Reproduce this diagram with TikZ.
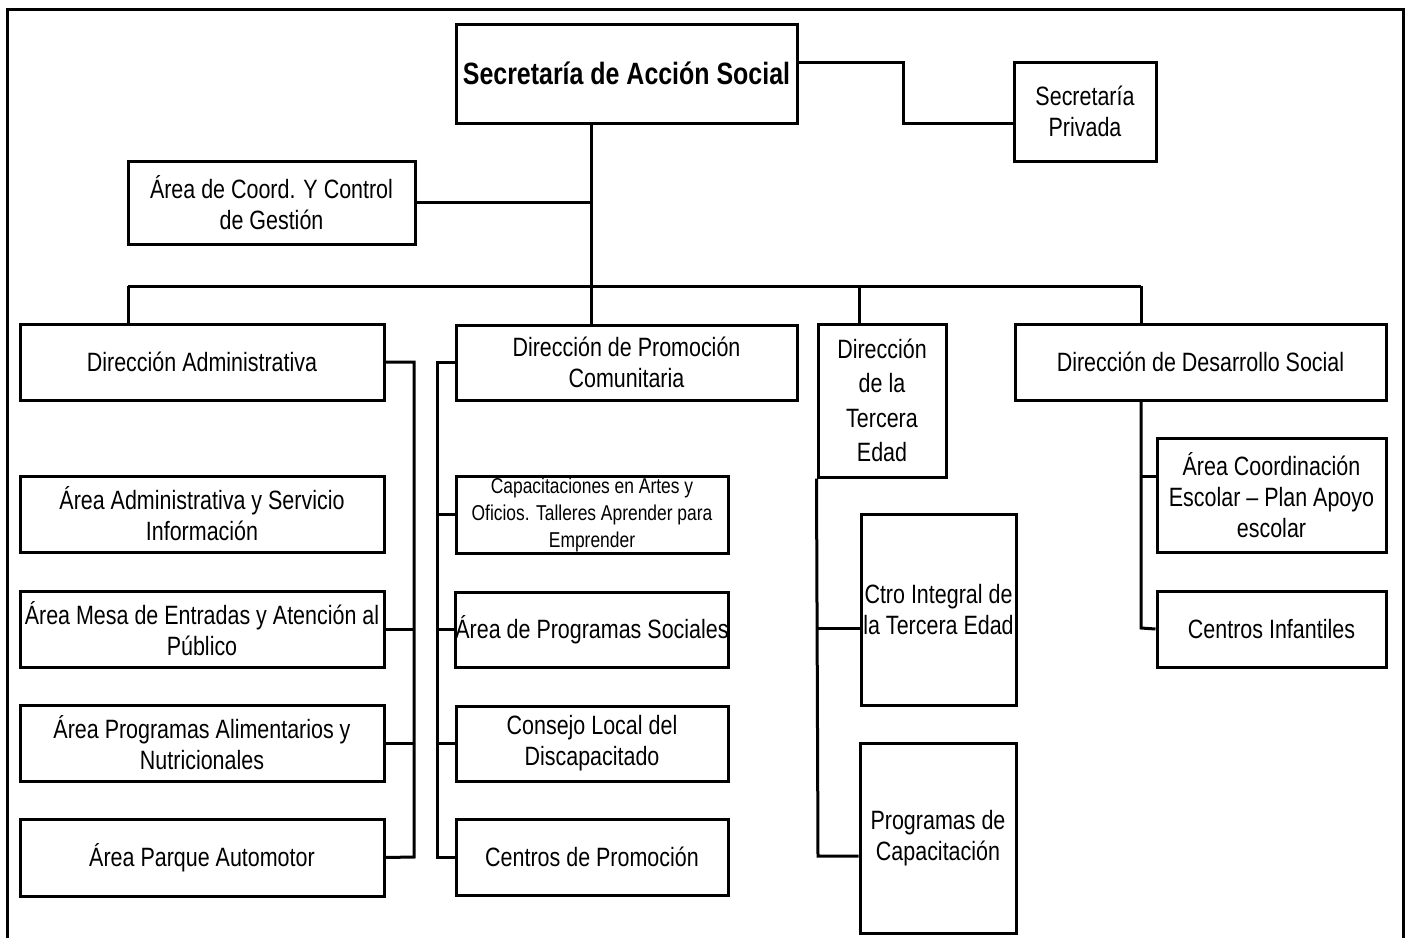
\documentclass[tikz,border=0pt]{standalone}
\usepackage{fontspec}
\setmainfont{Liberation Sans}[FakeStretch=0.81]
\begin{document}
\begin{tikzpicture}[x=1pt,y=-1pt,line width=3pt,
  box/.style={draw,line width=3pt,inner sep=0pt,align=center,font=\fontsize{26.5}{31}\selectfont},
  small/.style={font=\fontsize{21.5}{27}\selectfont},
  link/.style={line width=3pt}]
\useasboundingbox (0,0) rectangle (1409,938);
\draw (7,938) -- (7,9) -- (1403,9) -- (1403,938);

% top level
\node[box,minimum width=341pt,minimum height=99pt,font=\bfseries\fontsize{30.8}{34}\selectfont] (sec) at (626.5,73.5) {Secretaría de Acción Social};
\node[box,minimum width=142pt,minimum height=99pt] (priv) at (1085,111.5) {Secretaría\\Privada};
\node[box,minimum width=287pt,minimum height=83pt] (coord) at (271.5,202.5) {Área de Coord. Y Control\\de Gestión};

% directions
\node[box,minimum width=364pt,minimum height=76pt] (dadm) at (202,362) {Dirección Administrativa};
\node[box,minimum width=341pt,minimum height=75pt] (dprom) at (626.5,362.5) {Dirección de Promoción\\Comunitaria};
\node[box,minimum width=128pt,minimum height=153pt,font=\fontsize{26.5}{34.5}\selectfont] (dter) at (882,400.5) {Dirección\\de la\\Tercera\\Edad};
\node[box,minimum width=371pt,minimum height=76pt] (ddes) at (1200.5,362) {Dirección de Desarrollo Social};

% administrative areas
\node[box,minimum width=364pt,minimum height=76pt] (a1) at (202,514) {Área Administrativa y Servicio\\Información};
\node[box,minimum width=364pt,minimum height=76pt] (a2) at (202,629) {Área Mesa de Entradas y Atención al\\Público};
\node[box,minimum width=364pt,minimum height=76pt] (a3) at (202,743) {Área Programas Alimentarios y\\Nutricionales};
\node[box,minimum width=364pt,minimum height=77pt] (a4) at (202,857.5) {Área Parque Automotor};

% promotion areas
\node[box,small,minimum width=272pt,minimum height=77pt] (p1) at (592,514.5) {Capacitaciones en Artes y\\Oficios. Talleres Aprender para\\Emprender};
\node[box,minimum width=272pt,minimum height=75pt] (p2) at (592,629.5) {Área de Programas Sociales};
\node[box,minimum width=272pt,minimum height=75pt] (p3) at (592,743.5) {Consejo Local del\\Discapacitado};
\node[box,minimum width=272pt,minimum height=76pt] (p4) at (592,857) {Centros de Promoción};

% third age
\node[box,minimum width=155pt,minimum height=191pt] (t1) at (938.5,609.5) {Ctro Integral de\\la Tercera Edad};
\node[box,minimum width=156pt,minimum height=190pt] (t2) at (938,838) {Programas de\\Capacitación};

% social development
\node[box,minimum width=229pt,minimum height=114pt] (d1) at (1271.5,495) {Área Coordinación\\Escolar – Plan Apoyo\\escolar};
\node[box,minimum width=229pt,minimum height=76pt] (d2) at (1271.5,629) {Centros Infantiles};

% junction coordinates
\coordinate (tt) at (591,123);
\coordinate (bl) at (128,286);
\coordinate (br) at (1141,286);
\coordinate (bm) at (591,286);
\coordinate (bt) at (859,286);
\coordinate (sj) at (903,62);
\coordinate (va) at (414,857);
\coordinate (vp) at (437,857);
\coordinate (vt) at (818,856);
\coordinate (vd) at (1141,628);

% connectors
\draw[link] ([yshift=11.5pt]sec.east) -- (sj) |- ([yshift=-11.5pt]priv.west);
\draw[link] (tt) -- (bm);
\draw[link] (coord.east) -- (coord.east -| tt);
\draw[link] (bl) -- (br);
\draw[link] (bl) -- (dadm.north -| bl);
\draw[link] (bm) -- (dprom.north -| bm);
\draw[link] (bt) -- (dter.north -| bt);
\draw[link] (br) -- (ddes.north -| br);

\draw[link] (dadm.east) -| (va) -- (a4.east);
\draw[link] (a2.east) -- (a2.east -| va);
\draw[link] (a3.east) -- (a3.east -| va);

\draw[link] (dprom.west) -| (vp) -- (p4.west);
\draw[link] (p1.west) -- (p1.west -| vp);
\draw[link] (p2.west) -- (p2.west -| vp);
\draw[link] (p3.west) -- (p3.west -| vp);

\draw[link] (dter.south west) -- (vt) -- ([yshift=-18pt]t2.west);
\draw[link] ([yshift=-18.5pt]t1.west) -- ([yshift=-18.5pt]t1.west -| vt);

\draw[link] (ddes.south -| vd) -- (vd) -- (d2.west);
\draw[link] ([yshift=19pt]d1.west) -- ([yshift=19pt]d1.west -| vd);
\end{tikzpicture}
\end{document}
